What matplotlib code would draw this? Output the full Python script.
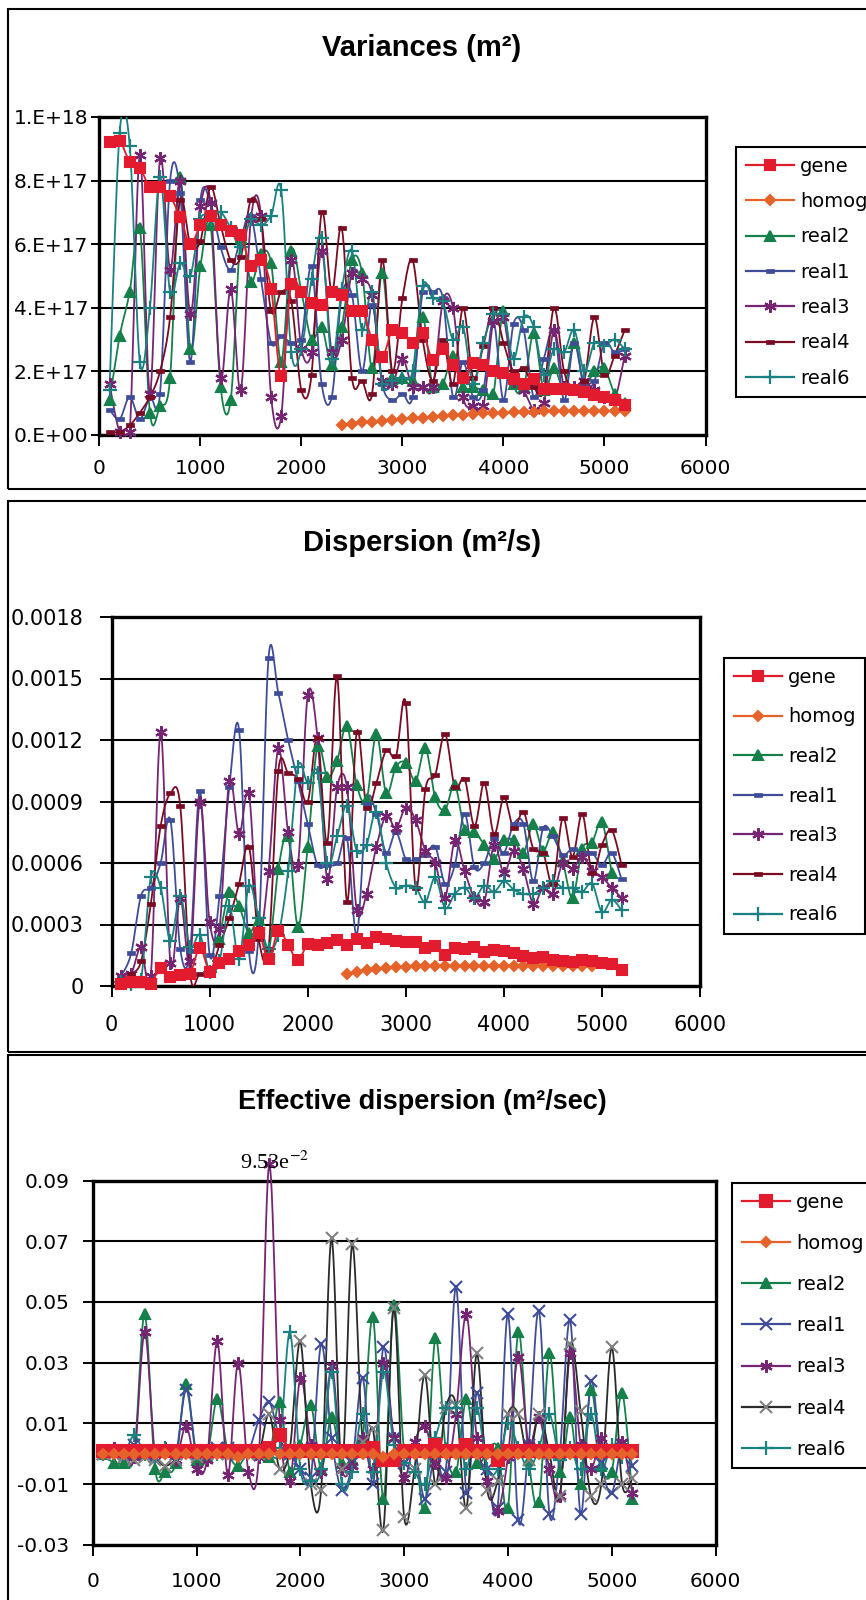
import numpy as np
import matplotlib
matplotlib.use("Agg")
import matplotlib.pyplot as plt
from matplotlib.lines import Line2D
from matplotlib.patches import Rectangle
from matplotlib.path import Path

plt.rcParams['font.family'] = ['DejaVu Sans']
plt.rcParams['mathtext.fontset'] = 'stix'

# ---------------- data ----------------
x_all = list(range(100, 5300, 100))          # 100 .. 5200
x_homog1 = list(range(2400, 5300, 100))      # 2400 .. 5200
x_homog2 = list(range(2400, 5000, 100))      # 2400 .. 4900
x_real2_2 = list(range(1100, 5200, 100))     # 1100 .. 5100
x_ticks = [0, 1000, 2000, 3000, 4000, 5000, 6000]
x_labels = ["0", "1000", "2000", "3000", "4000", "5000", "6000"]
series_names = ["gene", "homog", "real2", "real1", "real3", "real4", "real6"]

# Variances, units of 1e17 m2
var_gene = [9.2, 9.25, 8.6, 8.4, 7.8, 7.8, 7.5, 6.85, 6.0, 6.6,
            6.9, 6.6, 6.4, 6.3, 5.3, 5.5, 4.6, 1.85, 4.75, 4.5,
            4.15, 4.1, 4.5, 4.4, 3.9, 3.9, 3.0, 2.45, 3.3, 3.2,
            2.9, 3.2, 2.35, 2.7, 2.2, 1.8, 2.25, 2.2, 2.0, 1.95,
            1.75, 1.6, 1.75, 1.45, 1.45, 1.45, 1.4, 1.35, 1.25, 1.2,
            1.1, 0.95]
var_homog = [0.3, 0.35, 0.4, 0.42, 0.45, 0.48, 0.5, 0.53, 0.55, 0.58,
             0.6, 0.62, 0.64, 0.66, 0.68, 0.69, 0.7, 0.71, 0.72, 0.73,
             0.74, 0.74, 0.75, 0.75, 0.76, 0.76, 0.76, 0.77, 0.75]
var_real2 = [1.1, 3.1, 4.5, 6.5, 0.7, 0.9, 1.8, 8.1, 2.7, 5.3,
             6.6, 1.5, 1.1, 6.2, 4.8, 5.7, 5.4, 2.3, 5.8, 4.5,
             3.0, 3.4, 2.2, 3.4, 5.5, 5.1, 2.1, 5.1, 1.8, 1.8,
             1.7, 3.7, 1.5, 1.6, 2.5, 1.5, 1.5, 1.4, 1.3, 3.9,
             1.6, 1.5, 3.2, 1.4, 2.1, 1.5, 2.9, 1.6, 2.0, 2.1,
             1.3, 1.0]
var_real1 = [0.8, 0.5, 1.2, 0.5, 1.2, 1.3, 8.0, 7.6, 2.3, 7.4,
             7.3, 5.9, 5.2, 6.2, 6.9, 4.9, 2.9, 3.1, 2.9, 3.0,
             5.3, 1.6, 1.2, 4.4, 4.4, 2.0, 4.1, 1.6, 1.1, 1.3,
             1.2, 4.5, 4.5, 4.3, 1.2, 2.3, 1.2, 1.4, 3.6, 1.1,
             3.5, 3.3, 1.2, 2.4, 3.3, 1.1, 2.9, 1.5, 1.7, 2.9,
             2.6, 2.7]
var_real3 = [1.6, 0.1, 0.1, 8.8, 1.3, 8.7, 5.2, 8.0, 3.8, 7.2,
             7.3, 1.8, 4.6, 1.4, 6.8, 6.9, 1.2, 0.6, 5.5, 2.7,
             2.6, 5.8, 2.6, 3.0, 5.1, 4.9, 4.4, 1.7, 1.6, 2.4,
             1.5, 1.5, 1.5, 4.2, 4.0, 1.2, 0.9, 0.9, 3.6, 3.7,
             1.7, 1.4, 0.8, 1.0, 3.3, 1.5, 1.5, 1.7, 1.4, 1.2,
             1.1, 2.5]
var_real4 = [0.1, 0.1, 0.3, 0.7, 1.2, 2.0, 3.7, 7.4, 6.0, 6.1,
             7.8, 6.6, 5.5, 5.6, 7.4, 6.8, 3.9, 4.5, 4.2, 1.4,
             1.9, 7.0, 4.5, 6.5, 1.8, 1.7, 1.3, 5.5, 2.0, 4.3,
             5.5, 3.0, 1.7, 3.0, 1.6, 4.0, 1.8, 2.8, 4.0, 2.9,
             2.0, 2.1, 1.5, 1.4, 4.0, 2.0, 1.4, 1.7, 3.7, 1.9,
             2.5, 3.3]
var_real6 = [1.4, 9.5, 9.1, 2.3, 4.0, 8.1, 4.5, 5.4, 5.0, 6.8,
             6.8, 7.0, 6.5, 5.9, 6.8, 6.6, 6.9, 7.7, 2.6, 2.7,
             4.9, 6.2, 2.4, 4.6, 5.8, 3.3, 4.5, 1.6, 1.7, 1.8,
             2.0, 4.7, 4.3, 4.2, 3.0, 3.4, 1.6, 2.9, 3.8, 3.8,
             2.4, 3.7, 3.4, 1.9, 2.7, 2.6, 3.3, 2.0, 2.9, 2.8,
             3.0, 2.7]
var_yticks = [0, 2e17, 4e17, 6e17, 8e17, 1e18]
var_ylabels = ["0.E+00", "2.E+17", "4.E+17", "6.E+17", "8.E+17", "1.E+18"]

# Dispersion, units of 1e-4 m2/s
dis_gene = [0.1, 0.2, 0.2, 0.1, 0.9, 0.45, 0.55, 0.6, 1.85, 0.7,
            1.1, 1.3, 1.7, 2.0, 2.6, 1.3, 2.7, 2.0, 1.25, 2.05,
            2.0, 2.1, 2.25, 2.0, 2.3, 2.1, 2.4, 2.3, 2.2, 2.15,
            2.15, 1.85, 1.95, 1.5, 1.85, 1.8, 1.9, 1.65, 1.75, 1.7,
            1.6, 1.45, 1.35, 1.4, 1.25, 1.2, 1.15, 1.25, 1.2, 1.1,
            1.05, 0.8]
dis_homog = [0.6, 0.7, 0.8, 0.85, 0.88, 0.92, 0.95, 0.98, 1.0, 1.0,
             1.0, 1.0, 1.0, 1.0, 1.0, 1.0, 1.0, 1.0, 1.0, 1.0,
             1.0, 1.0, 1.0, 1.0, 1.0, 1.0]
dis_real2 = [2.3, 4.6, 3.9, 2.6, 3.2, 1.7, 5.7, 7.3, 2.9, 6.8,
             11.7, 10.2, 11.0, 12.7, 9.8, 9.1, 12.3, 9.4, 10.7, 10.9,
             10.0, 11.6, 9.2, 8.6, 9.8, 7.6, 7.5, 6.9, 6.2, 7.1,
             7.1, 6.5, 7.9, 6.6, 7.5, 6.1, 4.3, 6.7, 7.0, 8.0,
             5.5]
dis_real1 = [0.5, 1.6, 4.4, 4.8, 6.0, 8.1, 1.8, 1.7, 9.5, 1.5,
             4.4, 9.7, 12.5, 1.7, 2.6, 16.0, 14.3, 12.0, 10.0, 7.9,
             5.9, 5.9, 6.0, 7.2, 2.5, 8.9, 8.4, 6.5, 7.5, 6.2,
             6.2, 6.4, 6.8, 5.0, 5.9, 8.4, 5.8, 6.0, 7.2, 6.5,
             7.9, 7.9, 5.1, 7.7, 7.3, 6.4, 6.7, 6.5, 6.5, 5.9,
             6.5, 5.2]
dis_real3 = [0.5, 0.6, 1.9, 0.5, 12.4, 1.1, 4.3, 1.2, 9.0, 3.1,
             2.8, 10.0, 7.4, 9.4, 2.7, 5.6, 11.6, 7.5, 5.9, 14.2,
             12.1, 5.2, 9.7, 9.7, 3.7, 4.5, 6.8, 8.3, 7.7, 8.7,
             8.1, 6.6, 6.0, 4.3, 7.1, 5.6, 4.3, 4.1, 6.9, 5.5,
             6.6, 5.7, 4.0, 4.8, 4.5, 6.0, 5.7, 6.3, 5.6, 5.3,
             4.8, 4.3]
dis_real4 = [0.3, 0.6, 1.2, 4.0, 7.8, 9.4, 8.8, 0.6, 0.6, 0.6,
             2.0, 3.3, 5.0, 6.8, 2.3, 1.8, 10.5, 10.4, 10.1, 9.0,
             12.1, 7.0, 15.1, 4.1, 12.4, 8.7, 9.9, 11.5, 11.2, 13.8,
             4.8, 9.6, 10.3, 12.3, 9.7, 10.1, 7.8, 9.9, 7.4, 9.2,
             7.7, 8.5, 6.7, 6.5, 5.0, 8.2, 6.3, 8.4, 5.5, 6.9,
             7.6, 5.9]
dis_real6 = [0.2, 0.1, 0.3, 5.3, 4.8, 2.2, 4.4, 1.9, 2.5, 0.7,
             1.2, 3.9, 1.3, 4.9, 3.3, 1.8, 2.5, 5.6, 10.7, 9.9,
             10.4, 6.0, 7.3, 8.8, 6.6, 6.9, 8.5, 6.0, 4.8, 4.9,
             4.8, 4.1, 5.3, 3.8, 4.5, 4.8, 4.3, 4.9, 4.6, 5.1,
             4.7, 4.5, 4.5, 4.8, 5.1, 4.8, 4.8, 4.6, 5.0, 3.6,
             4.2, 3.7]
dis_yticks = [0, 0.0003, 0.0006, 0.0009, 0.0012, 0.0015, 0.0018]
dis_ylabels = ["0", "0.0003", "0.0006", "0.0009", "0.0012", "0.0015", "0.0018"]

# Effective dispersion, units of 1e-2 m2/sec
eff_gene = [0.1, 0.1, 0.1, 0.1, 0.1, 0.1, 0.1, 0.1, 0.1, 0.1,
            0.1, 0.1, 0.1, 0.1, 0.1, 0.1, 0.2, 0.6, 0.1, 0.1,
            0.1, 0.1, 0.1, 0.1, 0.1, 0.1, 0.2, -0.2, -0.2, 0.1,
            0.1, 0.1, 0.3, 0.1, 0.1, 0.3, 0.1, 0.1, -0.2, 0.1,
            0.1, 0.1, 0.1, 0.1, 0.1, 0.1, 0.1, 0.1, 0.1, 0.1,
            0.1, 0.1]
eff_homog = [0.0, 0.0, 0.0, 0.0, 0.0, 0.0, 0.0, 0.0, 0.0, 0.0,
             0.0, 0.0, 0.0, -0.1, 0.0, 0.0, 0.0, 0.0, 0.0, 0.0,
             0.0, 0.0, 0.0, 0.0, 0.0, 0.0, 0.0, -0.1, 0.0, 0.0,
             0.0, 0.0, 0.0, 0.0, 0.0, 0.0, 0.0, 0.0, 0.0, 0.0,
             0.0, 0.0, 0.0, 0.0, 0.0, 0.0, 0.0, 0.0, 0.0, 0.0,
             0.0, 0.0]
eff_real2 = [0.0, -0.3, -0.3, 0.0, 4.6, -0.5, -0.6, -0.3, 2.3, -0.2,
             -0.1, 1.8, 0.1, -0.4, 0.1, 0.0, -0.1, 1.7, -0.6, 0.3,
             1.6, -0.5, 1.2, -0.3, -0.2, 0.5, 4.5, -1.5, 4.9, 0.1,
             0.2, -1.8, 3.8, 0.2, -0.6, 1.8, -0.3, 0.1, 0.2, -1.8,
             4.0, -0.2, -1.6, 3.3, -0.6, 1.2, -1.0, 2.1, -0.4, -0.6,
             2.0, -1.5]
eff_real1 = [0.0, 0.0, 0.0, 0.3, 0.0, -0.1, 0.1, 0.0, 2.1, 0.0,
             0.0, 0.2, 0.2, 0.0, 0.1, 1.1, 1.7, 0.5, 0.0, -0.5,
             -0.8, 3.6, 0.5, -1.2, -0.3, 2.5, -1.0, 3.5, 0.5, -0.3,
             0.1, -1.5, 0.0, -0.6, 5.5, -1.3, 2.0, -0.5, -1.8, 4.6,
             -2.2, 0.3, 4.7, -2.0, 0.0, 4.4, -2.0, 2.4, -0.3, -1.3,
             0.3, -0.4]
eff_real3 = [0.1, 0.2, 0.0, -0.1, 4.0, 0.0, 0.2, -0.2, 0.9, -0.5,
             -0.2, 3.7, -0.7, 3.0, -0.6, -0.1, 9.53, 1.1, -0.9, 2.5,
             0.3, -0.6, 2.9, -0.5, -0.4, 0.5, -0.5, 3.0, 0.5, -0.8,
             0.4, 0.9, -0.3, -0.8, 1.3, 4.6, 0.5, -0.9, -1.9, -0.1,
             3.2, 0.3, 1.2, -0.5, -1.4, 3.3, 0.3, -0.5, 0.5, 0.1,
             0.4, -1.3]
eff_real4 = [0.0, 0.0, -0.1, -0.2, -0.1, -0.2, -0.4, -0.2, 0.0, -0.1,
             0.0, 0.0, 0.0, 0.1, 0.0, 0.0, 1.3, -0.5, 0.2, 3.7,
             -1.0, -1.2, 7.1, -0.5, 6.9, 0.4, 0.8, -2.5, 4.8, -2.1,
             -0.5, 2.6, -1.0, 1.5, 1.6, -1.8, 3.3, -1.2, -0.9, 1.3,
             1.3, -0.2, 1.3, 0.0, -1.4, 3.6, 1.4, -1.4, -1.0, 3.5,
             -1.0, -0.8]
eff_real6 = [0.0, 0.0, 0.0, 0.6, 0.0, -0.1, 0.2, 0.0, 0.1, 0.0,
             0.0, 0.0, 0.1, 0.0, 0.1, 0.0, 0.0, 0.2, 4.0, -0.5,
             -0.9, -0.5, 2.7, -1.0, -0.6, 1.3, -0.6, 2.7, 0.3, -0.3,
             -0.6, -1.0, 0.5, 1.5, 1.5, -0.5, 1.5, -0.5, -0.5, 1.0,
             0.2, -0.5, 0.2, 1.3, -0.2, 0.2, -0.5, 1.3, -0.5, 0.3,
             -0.1, 0.1]
eff_yticks = [-0.03, -0.01, 0.01, 0.03, 0.05, 0.07, 0.09]
eff_ylabels = ["-0.03", "-0.01", "0.01", "0.03", "0.05", "0.07", "0.09"]

# ---------------- styles ----------------
C_GENE = "#e31b2e"
C_HOMOG = "#e5622a"
C_REAL2 = "#15804a"
C_REAL1 = "#3f4d99"
C_REAL3 = "#762572"
C_REAL4 = "#7a0b22"
C_REAL6 = "#1b8080"

DASH = Path([(-1, -0.45), (1, -0.45), (1, 0.45), (-1, 0.45), (-1, -0.45)],
            [Path.MOVETO, Path.LINETO, Path.LINETO, Path.LINETO, Path.CLOSEPOLY])
STAR = (6, 2, 0)

W, H = 866, 1600
fig = plt.figure(figsize=(W / 100, H / 100), dpi=100, facecolor="white")


def fx(px):
    return px / W


def fy(py):
    return 1 - py / H


def smooth(x, y, n=12):
    # Excel-like smoothed line (Catmull-Rom through the data points)
    x = np.asarray(x, float)
    y = np.asarray(y, float)
    px = np.r_[x[0], x, x[-1]]
    py = np.r_[y[0], y, y[-1]]
    t = np.linspace(0, 1, n, endpoint=False)
    xs, ys = [], []
    for i in range(len(x) - 1):
        for arr, out in ((px, xs), (py, ys)):
            a0, a1, a2, a3 = arr[i], arr[i + 1], arr[i + 2], arr[i + 3]
            out.append(0.5 * (2 * a1 + (-a0 + a2) * t
                              + (2 * a0 - 5 * a1 + 4 * a2 - a3) * t ** 2
                              + (-a0 + 3 * a1 - 3 * a2 + a3) * t ** 3))
    xs.append([x[-1]])
    ys.append([y[-1]])
    return np.concatenate(xs), np.concatenate(ys)


def draw(ax, x, y, style, z, clip=True):
    sx, sy = smooth(x, y)
    ax.plot(sx, sy, color=style["lc"], lw=1.3, zorder=z, clip_on=clip)
    ax.plot(x, y, ls="none", marker=style["m"], ms=style["ms"], mfc=style["c"],
            mec=style["c"], mew=style.get("mew", 1.5), zorder=z + 0.1, clip_on=False)


def proxy(style):
    return Line2D([], [], color=style["lc"], lw=1.6, marker=style["m"], ms=style["ms"],
                  mfc=style["c"], mec=style["c"], mew=style.get("mew", 1.5))


def setup(ax, ylim, yticks, ylabels, xpad, ypad, ylen, fs):
    ax.set_xlim(0, 6000)
    ax.set_xticks(x_ticks)
    ax.set_xticklabels(x_labels)
    ax.set_ylim(*ylim)
    ax.set_yticks(yticks)
    ax.set_yticklabels(ylabels)
    ax.set_axisbelow(True)
    ax.grid(axis="y", color="black", lw=1.5)
    for s in ax.spines.values():
        s.set_linewidth(2.4)
    ax.tick_params(axis="x", direction="out", length=8, width=1.4, labelsize=fs, pad=xpad)
    ax.tick_params(axis="y", direction="out", length=ylen, width=1.4, labelsize=fs, pad=ypad)


def frame(top, bottom):
    fig.add_artist(Rectangle((fx(8), fy(bottom)), fx(900) - fx(8), fy(top) - fy(bottom),
                             transform=fig.transFigure, fill=False, ec="black", lw=1.5))


def legend(styles, left, top, spacing):
    fig.legend([proxy(s) for s in styles], series_names, loc="upper left",
               bbox_to_anchor=(fx(left), fy(top)), bbox_transform=fig.transFigure,
               fontsize=14, handlelength=2.5, handletextpad=0.3, labelspacing=spacing,
               borderpad=0.5, borderaxespad=0, numpoints=1, fancybox=False,
               edgecolor="black", framealpha=1).get_frame().set_linewidth(1.5)


base = {
    "gene": {"c": C_GENE, "lc": C_GENE, "m": "s", "ms": 7.5},
    "homog": {"c": C_HOMOG, "lc": C_HOMOG, "m": "D", "ms": 5.5},
    "real2": {"c": C_REAL2, "lc": C_REAL2, "m": "^", "ms": 7.5},
    "real1": {"c": C_REAL1, "lc": C_REAL1, "m": DASH, "ms": 6, "mew": 0.5},
    "real3": {"c": C_REAL3, "lc": C_REAL3, "m": STAR, "ms": 9, "mew": 1.6},
    "real4": {"c": C_REAL4, "lc": C_REAL4, "m": DASH, "ms": 6, "mew": 0.5},
    "real6": {"c": C_REAL6, "lc": C_REAL6, "m": "+", "ms": 10, "mew": 1.6},
}
eff_styles = dict(base)
eff_styles["gene"] = {"c": C_GENE, "lc": C_GENE, "m": "s", "ms": 8}
eff_styles["real1"] = {"c": C_REAL1, "lc": C_REAL1, "m": "x", "ms": 8, "mew": 1.5}
eff_styles["real4"] = {"c": "#808080", "lc": "#2b2b2b", "m": "x", "ms": 8, "mew": 1.5}
order = ["gene", "homog", "real2", "real1", "real3", "real4", "real6"]

# ---------------- panel 1: variances ----------------
frame(9, 489)
ax1 = fig.add_axes([fx(99.4), fy(435), fx(705.5) - fx(99.4), fy(117) - fy(435)])
v17 = lambda a: np.array(a) * 1e17
draw(ax1, x_all, v17(var_real2), base["real2"], 3)
draw(ax1, x_all, v17(var_real1), base["real1"], 3)
draw(ax1, x_all, v17(var_real3), base["real3"], 3)
draw(ax1, x_all, v17(var_real4), base["real4"], 3)
draw(ax1, x_all, v17(var_real6), base["real6"], 3)
draw(ax1, x_homog1, v17(var_homog), base["homog"], 4)
draw(ax1, x_all, v17(var_gene), base["gene"], 4)
setup(ax1, (0, 1e18), var_yticks, var_ylabels, 9, 2, 6, 14.5)
fig.text(fx(422), fy(48), "Variances (m²)", ha="center", va="center",
         fontsize=21, fontweight="bold", family="Liberation Sans")
legend([base[k] for k in order], 736, 147, 0.84)

# ---------------- panel 2: dispersion ----------------
frame(501, 1052)
ax2 = fig.add_axes([fx(111.6), fy(986), fx(700) - fx(111.6), fy(617) - fy(986)])
d4 = lambda a: np.array(a) * 1e-4
draw(ax2, x_real2_2, d4(dis_real2), base["real2"], 3)
draw(ax2, x_all, d4(dis_real1), base["real1"], 3)
draw(ax2, x_all, d4(dis_real3), base["real3"], 3)
draw(ax2, x_all, d4(dis_real4), base["real4"], 3)
draw(ax2, x_all, d4(dis_real6), base["real6"], 3)
draw(ax2, x_homog2, d4(dis_homog), base["homog"], 4)
draw(ax2, x_all, d4(dis_gene), base["gene"], 4)
setup(ax2, (0, 0.0018), dis_yticks, dis_ylabels, 13, 11, 9, 15)
fig.text(fx(422), fy(543), "Dispersion (m²/s)", ha="center", va="center",
         fontsize=21, fontweight="bold", family="Liberation Sans")
legend([base[k] for k in order], 724, 658, 1.06)

# ---------------- panel 3: effective dispersion ----------------
frame(1055, 1620)
ax3 = fig.add_axes([fx(92.8), fy(1544.7), fx(715.5) - fx(92.8), fy(1180.5) - fy(1544.7)])
e2 = lambda a: np.array(a) * 1e-2
draw(ax3, x_all, e2(eff_real2), eff_styles["real2"], 3, clip=False)
draw(ax3, x_all, e2(eff_real1), eff_styles["real1"], 3, clip=False)
draw(ax3, x_all, e2(eff_real3), eff_styles["real3"], 3, clip=False)
draw(ax3, x_all, e2(eff_real4), eff_styles["real4"], 3, clip=False)
draw(ax3, x_all, e2(eff_real6), eff_styles["real6"], 3, clip=False)
draw(ax3, x_all, e2(eff_homog), eff_styles["homog"], 4.2, clip=False)
draw(ax3, x_all, e2(eff_gene), eff_styles["gene"], 4, clip=False)
setup(ax3, (-0.03, 0.09), eff_yticks, eff_ylabels, 12, 10, 7, 14.5)
fig.text(fx(422), fy(1102), "Effective dispersion (m²/sec)", ha="center", va="center",
         fontsize=19.5, fontweight="bold", family="Liberation Sans")
ax3.text(1755, 0.0958, "9.53e$^{-2}$", ha="center", va="center", fontsize=16,
         family="Liberation Serif", zorder=6, clip_on=False)
legend([eff_styles[k] for k in order], 732, 1183, 1.14)

fig.savefig("out.png", dpi=100, facecolor="white")
